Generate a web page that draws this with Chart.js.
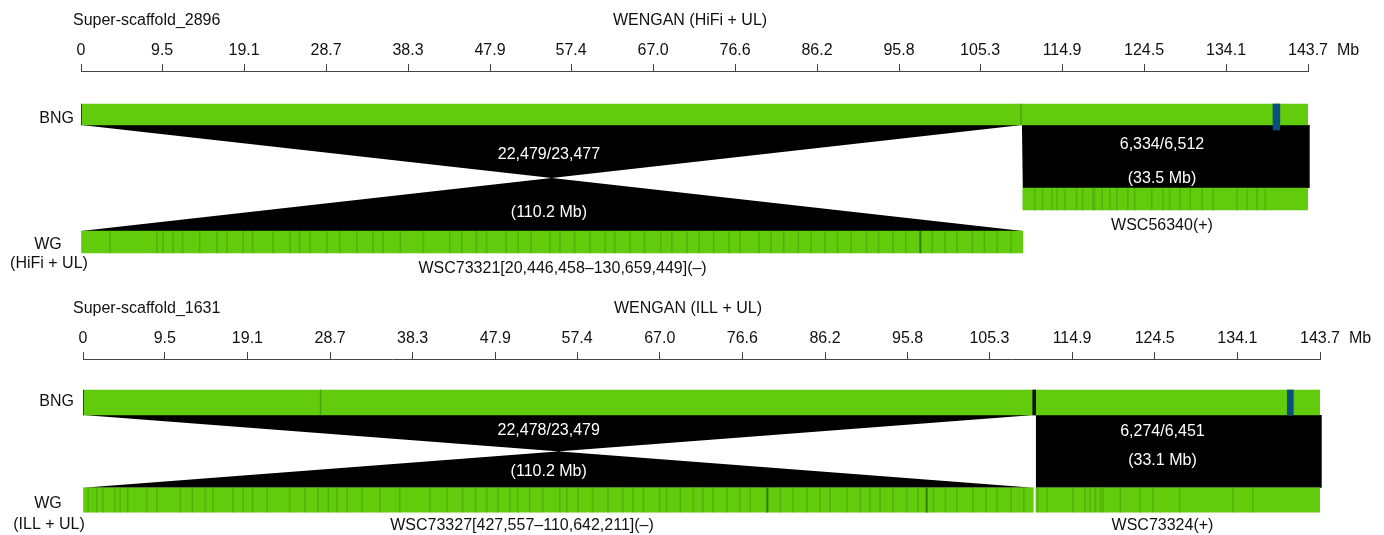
<!DOCTYPE html>
<html>
<head>
<meta charset="utf-8">
<script src="https://cdn.jsdelivr.net/npm/chart.js@4.4.1/dist/chart.umd.min.js"></script>
<style>
  html, body { margin: 0; padding: 0; background: #fff; }
  #wrap { position: relative; width: 1384px; height: 535px; overflow: hidden; }
  .panel { position: absolute; left: 0; width: 1384px; }
  #p1 { top: 0; height: 280px; }
  #p2 { top: 280px; height: 255px; }
  canvas { display: block; }
</style>
</head>
<body>
<div id="wrap">
  <div class="panel" id="p1"><canvas id="c1" width="1384" height="280"></canvas></div>
  <div class="panel" id="p2"><canvas id="c2" width="1384" height="255"></canvas></div>
</div>
<script>
// ---- shared axis (Mb) ----
const tickValues = [0, 9.5, 19.1, 28.7, 38.3, 47.9, 57.4, 67.0, 76.6, 86.2, 95.8, 105.3, 114.9, 124.5, 134.1, 143.7];
const tickLabels = ['0', '9.5', '19.1', '28.7', '38.3', '47.9', '57.4', '67.0', '76.6', '86.2', '95.8', '105.3', '114.9', '124.5', '134.1', '143.7'];
const axisMax = 143.7;

// ---- Super-scaffold_2896 vs WENGAN (HiFi + UL) ----
const hifiTitle = 'Super-scaffold_2896';
const hifiAssembly = 'WENGAN (HiFi + UL)';
const hifiAssemblyShort = '(HiFi + UL)';
const hifiBngSpan = [0, 143.9];
const hifiBngEdges = [0, 143.9];
const hifiBngJoins = [110.1];
const hifiBngLabelRegion = [139.6, 140.4];
const hifiContigNames = ['WSC73321[20,446,458\u2013130,659,449](\u2013)', 'WSC56340(+)'];
const hifiContigSpans = [[0, 110.3], [110.3, 143.9]];
const hifiAlignBng = [[0, 110.2], [110.2, 143.9]];
const hifiAlignWgAtBngStart = [110.3, 110.3];
const hifiAlignWgAtBngEnd = [0, 143.9];
const hifiMatchCounts = ['22,479/23,477', '6,334/6,512'];
const hifiAlignedLengths = ['(110.2 Mb)', '(33.5 Mb)'];
const hifiSitesA = [3.4, 8.9, 9.6, 10.8, 11.9, 13.9, 15.9, 17.1, 19.0, 20.1, 22.5, 24.5, 25.6, 26.8, 28.8, 30.3, 32.3, 34.2, 35.4, 37.4, 40.1, 43.2, 44.6, 46.3, 47.5, 49.8, 51.2, 52.7, 54.9, 56.1, 57.8, 59.6, 61.4, 62.5, 64.3, 66.0, 67.9, 69.2, 71.0, 72.4, 74.1, 75.9, 77.2, 79.4, 80.8, 82.3, 84.0, 85.5, 87.1, 88.6, 90.2, 92.0, 93.4, 95.1, 96.6, 99.7, 101.2, 102.6, 104.4, 105.8, 107.3, 108.9];
const hifiSitesADense = [98.3];
const hifiSitesB = [111.7, 112.6, 113.7, 114.3, 115.2, 116.6, 117.3, 118.5, 118.7, 119.6, 120.5, 121.3, 122.6, 123.4, 125.4, 126.7, 127.5, 128.7, 129.9, 131.3, 132.6, 135.4, 136.6, 137.7, 138.7];
const hifiSitesBDense = [];

// ---- Super-scaffold_1631 vs WENGAN (ILL + UL) ----
const illTitle = 'Super-scaffold_1631';
const illAssembly = 'WENGAN (ILL + UL)';
const illAssemblyShort = '(ILL + UL)';
const illBngSpan = [0, 143.9];
const illBngEdges = [0, 143.9];
const illBngJoins = [27.6];
const illBngBreaks = [110.5];
const illBngLabelRegion = [139.9, 140.6];
const illContigNames = ['WSC73327[427,557\u2013110,642,211](\u2013)', 'WSC73324(+)'];
const illContigSpans = [[0, 110.4], [110.7, 143.9]];
const illAlignBng = [[0, 110.5], [110.7, 143.9]];
const illAlignWgAtBngStart = [110.4, 110.7];
const illAlignWgAtBngEnd = [0, 143.9];
const illMatchCounts = ['22,478/23,479', '6,274/6,451'];
const illAlignedLengths = ['(110.2 Mb)', '(33.1 Mb)'];
const illSitesA = [0.6, 1.6, 2.3, 3.7, 4.3, 5.2, 7.4, 8.6, 11.3, 12.7, 14.2, 15.1, 17.4, 18.6, 19.7, 21.4, 24.0, 25.8, 27.3, 28.5, 29.5, 30.7, 32.4, 34.5, 36.8, 40.3, 42.3, 44.1, 45.6, 46.9, 48.2, 49.6, 50.5, 51.9, 53.4, 55.4, 56.2, 57.5, 59.2, 61.0, 62.7, 63.9, 65.1, 67.0, 67.8, 69.4, 70.9, 72.0, 73.2, 74.8, 76.3, 77.5, 81.0, 82.5, 84.1, 85.6, 86.8, 88.8, 90.3, 91.4, 92.6, 94.1, 95.7, 97.0, 98.8, 100.2, 101.5, 103.4, 104.9, 106.2, 107.8, 109.3];
const illSitesADense = [79.5, 98.0];
const illSitesB = [110.9, 112.0, 115.0, 116.4, 117.0, 117.6, 118.2, 118.5, 120.5, 122.8, 124.3, 127.4, 133.6, 135.9];
const illSitesBDense = [];

// ---- styling ----
const FONT = "'Liberation Sans', Arial, Helvetica, sans-serif";
const FONT_SIZE = 16;
const GREEN = '#61cb0c';
const SITE = 'rgba(62, 140, 8, 0.38)';
const SITE_DENSE = 'rgba(30, 90, 4, 0.7)';
const EDGE = '#2f3a28';
const JOIN = 'rgba(60, 130, 10, 0.55)';
const BREAK = '#111111';
const LABEL_BLUE = '#0b4f80';
const TEXT = '#111111';
const AXIS = '#444444';
const SITE_HALF = 0.055;   // half-width of a site stroke, Mb
const EDGE_HALF = 0.07;

// panel layouts: vertical values are pixels below the axis line
const hifiLayout = {
  canvas: 'c1', padLeft: 81, padRight: 76, padTop: 41, yMax: 209,
  bngRow: 43.5, bngThick: 21, labelRow: 46, labelThick: 26,
  wgRows: [171, 128], wgThick: 22,
  titleY: -50, titleCenterX: 690,
  bngTextY: 48, wgTextY: 174, wgSubY: 193,
  matchTextX: [54.8, 126.6], matchTextY: [84, 74], lenTextY: [142, 108],
  contigTextX: [56.4, 126.6], contigTextY: [198, 155]
};
const illLayout = {
  canvas: 'c2', padLeft: 83, padRight: 64, padTop: 49, yMax: 176,
  bngRow: 43.5, bngThick: 25, labelRow: 43.5, labelThick: 25,
  wgRows: [141, 141], wgThick: 24.5,
  titleY: -50, titleCenterX: 688,
  bngTextY: 43, wgTextY: 145, wgSubY: 166,
  matchTextX: [54.1, 125.4], matchTextY: [72, 73], lenTextY: [113, 102],
  contigTextX: [51.0, 125.4], contigTextY: [167, 167]
};

const hifiPanel = {
  layout: hifiLayout, title: hifiTitle, assembly: hifiAssembly, assemblyShort: hifiAssemblyShort,
  bngSpan: hifiBngSpan, bngEdges: hifiBngEdges, bngJoins: hifiBngJoins, bngBreaks: [],
  labelRegion: hifiBngLabelRegion, contigNames: hifiContigNames, contigSpans: hifiContigSpans,
  alignBng: hifiAlignBng, wgAtStart: hifiAlignWgAtBngStart, wgAtEnd: hifiAlignWgAtBngEnd,
  matchCounts: hifiMatchCounts, alignedLengths: hifiAlignedLengths,
  sites: [hifiSitesA, hifiSitesB], denseSites: [hifiSitesADense, hifiSitesBDense]
};
const illPanel = {
  layout: illLayout, title: illTitle, assembly: illAssembly, assemblyShort: illAssemblyShort,
  bngSpan: illBngSpan, bngEdges: illBngEdges, bngJoins: illBngJoins, bngBreaks: illBngBreaks,
  labelRegion: illBngLabelRegion, contigNames: illContigNames, contigSpans: illContigSpans,
  alignBng: illAlignBng, wgAtStart: illAlignWgAtBngStart, wgAtEnd: illAlignWgAtBngEnd,
  matchCounts: illMatchCounts, alignedLengths: illAlignedLengths,
  sites: [illSitesA, illSitesB], denseSites: [illSitesADense, illSitesBDense]
};

function barSet(data, color, thick, order) {
  return {
    type: 'bar', data, backgroundColor: color, barThickness: thick,
    grouped: false, order, borderWidth: 0, borderSkipped: false
  };
}

function strokes(positions, half, row) {
  return positions.map(v => ({ x: [v - half, v + half], y: row }));
}

function buildPanel(p) {
  const L = p.layout;
  const datasets = [];
  // optical map and contig bodies
  datasets.push(barSet([{ x: p.bngSpan, y: L.bngRow }], GREEN, L.bngThick, 6));
  p.contigSpans.forEach((s, i) => datasets.push(barSet([{ x: s, y: L.wgRows[i] }], GREEN, L.wgThick, 6)));
  // label sites on contigs
  p.sites.forEach((s, i) => datasets.push(barSet(strokes(s, SITE_HALF, L.wgRows[i]), SITE, L.wgThick, 5)));
  p.denseSites.forEach((s, i) => datasets.push(barSet(strokes(s, SITE_HALF * 1.4, L.wgRows[i]), SITE_DENSE, L.wgThick, 4)));
  // map joins, breaks and ends
  datasets.push(barSet(strokes(p.bngJoins, SITE_HALF, L.bngRow), JOIN, L.bngThick, 4));
  datasets.push(barSet(strokes(p.bngBreaks, 0.17, L.bngRow), BREAK, L.bngThick, 3));
  datasets.push(barSet(strokes(p.bngEdges, EDGE_HALF, L.bngRow), EDGE, L.bngThick, 3));
  // labelled region
  datasets.push(barSet([{ x: p.labelRegion, y: L.labelRow }], LABEL_BLUE, L.labelThick, 2));

  const alignPlugin = {
    id: 'alignments',
    beforeDatasetsDraw(chart) {
      const { ctx, scales: { x, y } } = chart;
      const top = y.getPixelForValue(L.bngRow) + L.bngThick / 2;
      ctx.save();
      ctx.fillStyle = '#000';
      p.alignBng.forEach((b, i) => {
        const bot = y.getPixelForValue(L.wgRows[i]) - L.wgThick / 2;
        ctx.beginPath();
        ctx.moveTo(x.getPixelForValue(b[0]), top);
        ctx.lineTo(x.getPixelForValue(b[1]), top);
        ctx.lineTo(x.getPixelForValue(p.wgAtEnd[i]), bot);
        ctx.lineTo(x.getPixelForValue(p.wgAtStart[i]), bot);
        ctx.closePath();
        ctx.fill('nonzero');
      });
      ctx.restore();
    }
  };

  const textPlugin = {
    id: 'texts',
    afterDraw(chart) {
      const { ctx, scales: { x, y } } = chart;
      const put = (str, px, py, align, color) => {
        ctx.fillStyle = color || TEXT;
        ctx.textAlign = align || 'center';
        ctx.fillText(str, px, py);
      };
      ctx.save();
      ctx.font = FONT_SIZE + 'px ' + FONT;
      ctx.textBaseline = 'middle';
      put(p.title, 73, y.getPixelForValue(L.titleY), 'left');
      put(p.assembly, L.titleCenterX, y.getPixelForValue(L.titleY));
      const tickY = x.bottom - 7 - 4 - FONT_SIZE * 1.2 / 2;
      put('Mb', x.right + 29, tickY, 'left');
      put('BNG', 74, y.getPixelForValue(L.bngTextY), 'right');
      put('WG', 48, y.getPixelForValue(L.wgTextY));
      put(p.assemblyShort, 49, y.getPixelForValue(L.wgSubY));
      p.matchCounts.forEach((s, i) => {
        put(s, x.getPixelForValue(L.matchTextX[i]), y.getPixelForValue(L.matchTextY[i]), 'center', '#fff');
        put(p.alignedLengths[i], x.getPixelForValue(L.matchTextX[i]), y.getPixelForValue(L.lenTextY[i]), 'center', '#fff');
      });
      p.contigNames.forEach((s, i) => {
        put(s, x.getPixelForValue(L.contigTextX[i]), y.getPixelForValue(L.contigTextY[i]));
      });
      ctx.restore();
    }
  };

  return new Chart(document.getElementById(L.canvas), {
    type: 'bar',
    data: { datasets },
    options: {
      indexAxis: 'y',
      responsive: false,
      animation: false,
      devicePixelRatio: 1,
      events: [],
      layout: { padding: { left: L.padLeft, right: L.padRight, top: L.padTop, bottom: 0 } },
      plugins: { legend: { display: false }, tooltip: { enabled: false }, title: { display: false } },
      scales: {
        x: {
          type: 'linear', position: 'top', min: 0, max: axisMax,
          afterBuildTicks: s => { s.ticks = tickValues.map(v => ({ value: v })); },
          afterFit: s => { s.height = 30; },
          ticks: {
            autoSkip: false, maxRotation: 0, minRotation: 0, padding: 4, color: TEXT,
            font: { family: FONT, size: FONT_SIZE },
            callback: (v, i) => tickLabels[i]
          },
          grid: { drawOnChartArea: false, drawTicks: true, tickLength: 7, color: AXIS, lineWidth: 1 },
          border: { display: true, color: AXIS, width: 1 }
        },
        y: { type: 'linear', display: false, reverse: true, offset: false, grace: 0, min: 0, max: L.yMax }
      }
    },
    plugins: [alignPlugin, textPlugin]
  });
}

buildPanel(hifiPanel);
buildPanel(illPanel);
</script>
</body>
</html>
